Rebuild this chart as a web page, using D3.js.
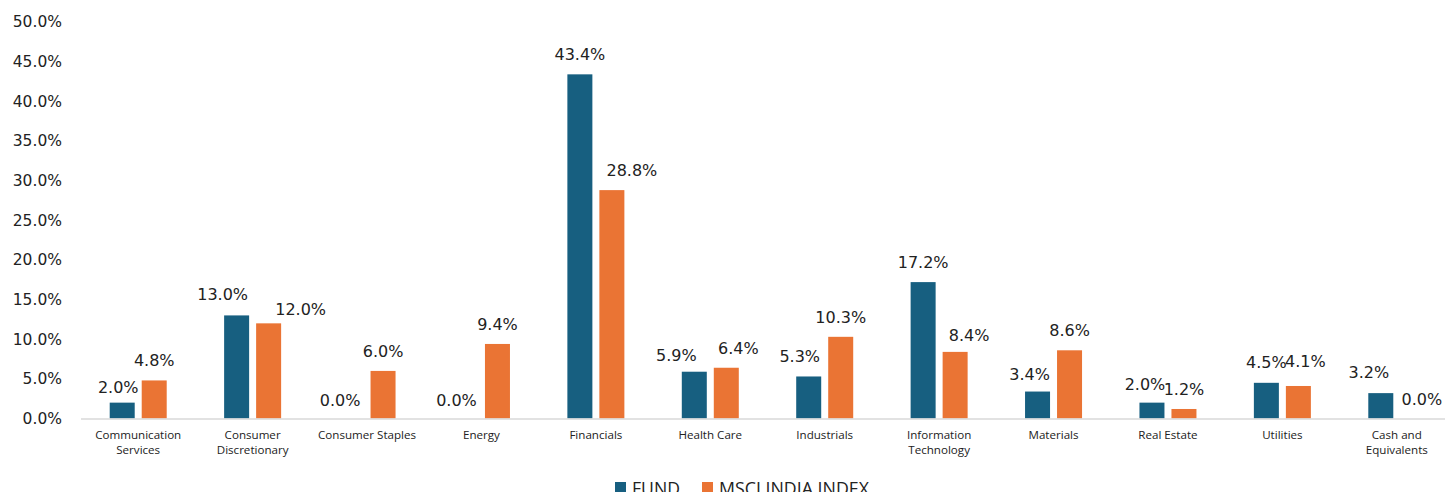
<!DOCTYPE html>
<html>
<head>
<meta charset="utf-8">
<script src="https://cdn.jsdelivr.net/npm/d3@7"></script>
<style>
  body { margin: 0; background: #fff; }
</style>
</head>
<body>
<div id="container"></div>
<script>
// data
let categories = [
  ["Communication", "Services"],
  ["Consumer", "Discretionary"],
  ["Consumer Staples"],
  ["Energy"],
  ["Financials"],
  ["Health Care"],
  ["Industrials"],
  ["Information", "Technology"],
  ["Materials"],
  ["Real Estate"],
  ["Utilities"],
  ["Cash and", "Equivalents"]
];
let fundValues = [2.0, 13.0, 0.0, 0.0, 43.4, 5.9, 5.3, 17.2, 3.4, 2.0, 4.5, 3.2];
let indexValues = [4.8, 12.0, 6.0, 9.4, 28.8, 6.4, 10.3, 8.4, 8.6, 1.2, 4.1, 0.0];
let seriesNames = ["FUND", "MSCI INDIA INDEX"];
let yTicks = [0, 5, 10, 15, 20, 25, 30, 35, 40, 45, 50];

// hand nudges of the value labels, like the original chart has them
let labelDx = [
  [-4, -14, -11, -9, 0, -18, -9, 0, -8, -7, 0, -12],
  [0, 32, 0, 0, 20, 12, 0, 14, 0, 0, 7, 9]
];
let labelDy = [
  [4, -1, 1.5, 1.5, 0, 3, 0, 0, 2, 1, -1, -1],
  [0, 6, 0, 0, 0, 0, 0, 3, 0, 0, -5, 0]
];

let w = 1445;
let h = 492;
let colors = ["#175f80", "#ea7434"];

let viz = d3.select("#container")
              .append("svg")
              .attr("width", w)
              .attr("height", h)
              .style("display", "block")
;

let xScale = d3.scaleBand().domain(d3.range(categories.length)).range([81, 1454]);
let yScale = d3.scaleLinear().domain([0, 50]).range([418.5, 22]);

let barW = 25;
let gap = 7;

// y axis labels (no line, no gridlines)
let yAxis = d3.axisLeft(yScale)
                .tickValues(yTicks)
                .tickSize(0)
                .tickPadding(0)
                .tickFormat(function(d){ return d.toFixed(1) + "%"; });
let yAxisGroup = viz.append("g")
                      .attr("class", "yaxisgroup")
                      .attr("transform", "translate(62,0)")
                      .call(yAxis);
yAxisGroup.select(".domain").remove();
yAxisGroup.selectAll("text")
  .attr("font-family", "DejaVu Sans")
  .attr("font-size", "15.5px")
  .attr("fill", "#222");

function barCenter(i, s) {
  let c = xScale(i) + xScale.bandwidth() / 2;
  return s == 0 ? c - gap / 2 - barW / 2 : c + gap / 2 + barW / 2;
}

// bars
let series = [fundValues, indexValues];
let barGroup = viz.append("g").attr("class", "bars");
series.forEach(function(vals, s) {
  barGroup.selectAll(".bar" + s)
    .data(vals)
    .enter()
    .append("rect")
    .attr("class", "bar" + s)
    .attr("x", function(d, i) { return barCenter(i, s) - barW / 2; })
    .attr("y", function(d) { return yScale(d); })
    .attr("width", barW)
    .attr("height", function(d) { return yScale(0) - yScale(d); })
    .attr("fill", colors[s]);

  barGroup.selectAll(".label" + s)
    .data(vals)
    .enter()
    .append("text")
    .attr("class", "label" + s)
    .attr("x", function(d, i) { return barCenter(i, s) + labelDx[s][i]; })
    .attr("y", function(d, i) { return yScale(d) - 14 + labelDy[s][i]; })
    .attr("text-anchor", "middle")
    .attr("font-family", "DejaVu Sans")
    .attr("font-size", "16px")
    .attr("fill", "#222")
    .text(function(d) { return d.toFixed(1) + "%"; });
});

// x axis line
viz.append("line")
  .attr("x1", 81)
  .attr("x2", w)
  .attr("y1", yScale(0) + 0.5)
  .attr("y2", yScale(0) + 0.5)
  .attr("stroke", "#d9d9d9")
  .attr("stroke-width", 1.5);

// category labels
let catGroup = viz.append("g").attr("class", "cats");
categories.forEach(function(lines, i) {
  let cx = xScale(i) + xScale.bandwidth() / 2;
  let t = catGroup.append("text")
    .attr("x", cx)
    .attr("y", 439)
    .attr("text-anchor", "middle")
    .attr("font-family", "Open Sans")
    .attr("font-size", "11.6px")
    .attr("fill", "#222");
  lines.forEach(function(line, j) {
    t.append("tspan")
      .attr("x", cx)
      .attr("dy", j == 0 ? 0 : 15)
      .text(line);
  });
});

// legend
let legendX = [615, 702];
let legend = viz.append("g").attr("class", "legend");
seriesNames.forEach(function(name, s) {
  legend.append("rect")
    .attr("x", legendX[s])
    .attr("y", 482)
    .attr("width", 11)
    .attr("height", 11)
    .attr("fill", colors[s]);
  legend.append("text")
    .attr("x", legendX[s] + 17)
    .attr("y", 494.5)
    .attr("font-family", "Open Sans")
    .attr("font-size", "17.5px")
    .attr("fill", "#222")
    .attr("textLength", s == 0 ? 48 : 150)
    .attr("lengthAdjust", "spacingAndGlyphs")
    .text(name);
});
</script>
</body>
</html>
